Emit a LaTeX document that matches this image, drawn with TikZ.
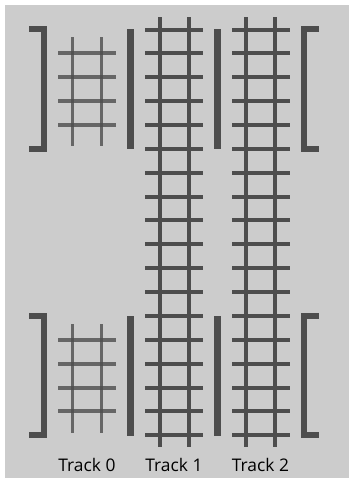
\documentclass[tikz,border=0pt]{standalone}
\usepackage{fontspec}
\setmainfont{Open Sans}
\usepackage{xcolor}
\definecolor{railgray}{HTML}{4D4D4D}
\definecolor{bggray}{HTML}{CCCCCC}
\begin{document}
\begin{tikzpicture}[x=0.2mm,y=-0.2mm,
  every node/.style={font=\fontsize{9.9pt}{11pt}\selectfont,inner sep=0.8pt,text=black},
  rail/.style={draw=railgray,line width=0.8mm},
  thinrail/.style={draw=railgray,line width=0.66mm,opacity=0.8},
  wall/.style={draw=railgray,line width=1.25mm},
  divider/.style={draw=railgray,line width=1.4mm}]
  \useasboundingbox (0,0) rectangle (349,478);
  \fill[bggray] (5,5) rectangle (349,478);
  % brackets
  \foreach \ytop/\ybot in {29.2/149,316/435} {
    \draw[wall] (29,\ytop) -- (44,\ytop) -- (44,\ybot) -- (29,\ybot);
    \draw[wall] (319,\ytop) -- (304,\ytop) -- (304,\ybot) -- (319,\ybot);
  }
  % dividers
  \foreach \ytop/\ybot in {29/149,316/436} {
    \draw[divider] (130.5,\ytop) -- (130.5,\ybot);
    \draw[divider] (217.5,\ytop) -- (217.5,\ybot);
  }
  % track 0
  \foreach \ytop/\ybot/\first/\second/\third/\fourth in {37/146/53/77/101/125,324/433/340/364/388/411} {
    \draw[thinrail] (72.7,\ytop) -- (72.7,\ybot);
    \draw[thinrail] (101.7,\ytop) -- (101.7,\ybot);
    \foreach \y in {\first,\second,\third,\fourth}
      \draw[thinrail] (58,\y) -- (116.3,\y);
  }
  % tracks 1 and 2
  \foreach \xa/\xb/\xl/\xr in {160/189/145/203,246/275/232/290} {
    \draw[rail] (\xa,17) -- (\xa,447);
    \draw[rail] (\xb,17) -- (\xb,447);
    \foreach \y in {29.7,53,77,101,125,149,173,197,220,244,268,292,316,340,364,388,411,435}
      \draw[rail] (\xl,\y) -- (\xr,\y);
  }
  \node (track0) at (87,465) {Track 0};
  \node (track1) at (174,465) {Track 1};
  \node (track2) at (260.5,465) {Track 2};
\end{tikzpicture}
\end{document}
